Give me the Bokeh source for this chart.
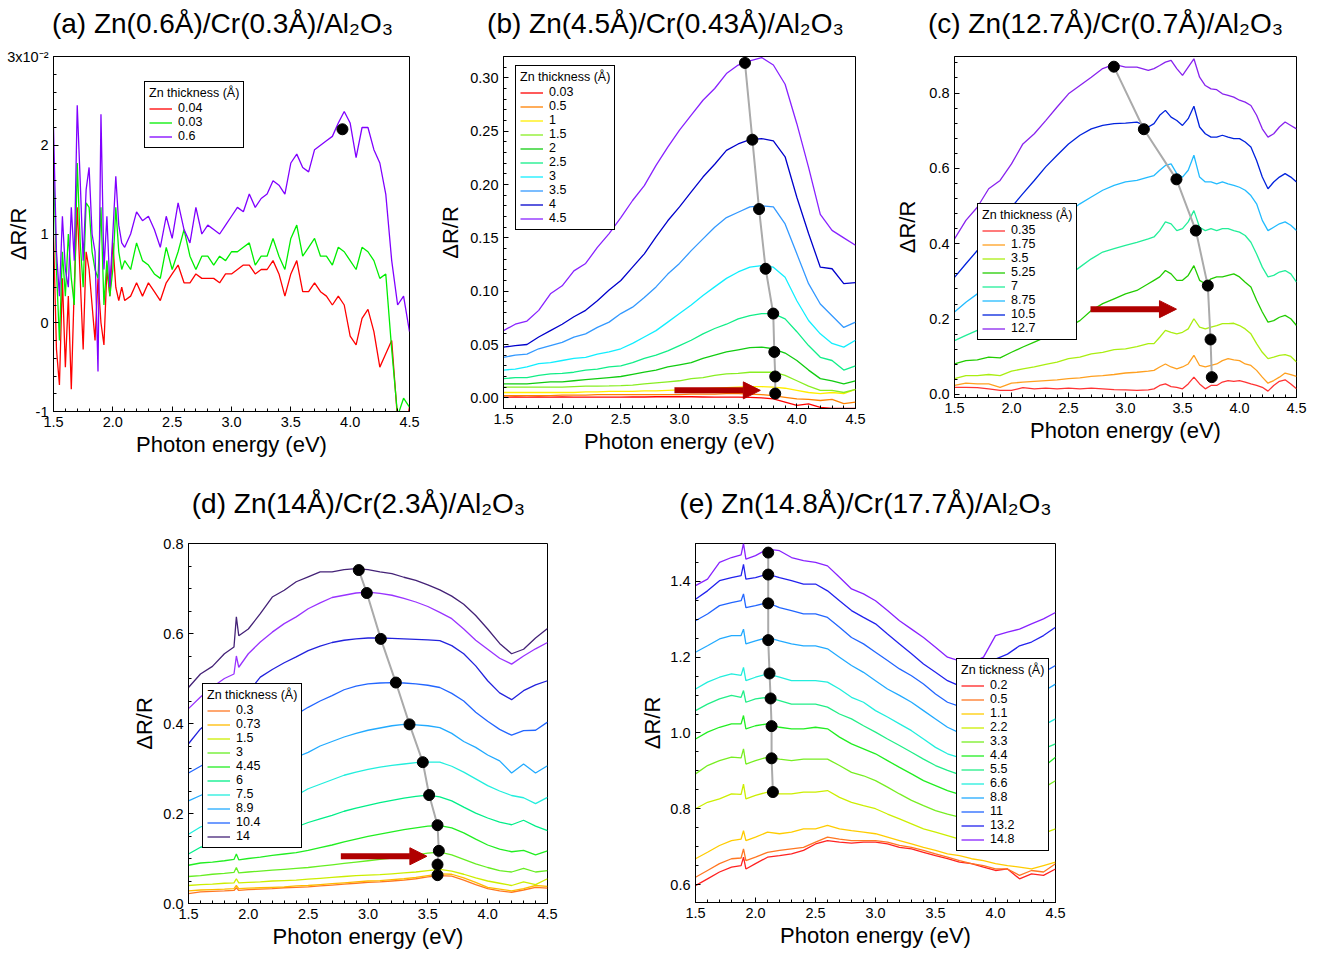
from bokeh.plotting import figure
from bokeh.layouts import row, column
from bokeh.models import (Range1d, FixedTicker, PrintfTickFormatter, Legend, LegendItem,
                          Arrow, NormalHead)
from bokeh.core.properties import value
from bokeh.embed import file_html
from bokeh.resources import INLINE

FONT = "Liberation Sans"

# ---------------- data: panel (a)  (values in units of 1e-2) ----------------
E_a = [1.500, 1.525, 1.550, 1.575, 1.600, 1.625, 1.650, 1.675, 1.700, 1.725, 1.750, 1.775, 1.800,
       1.825, 1.850, 1.875, 1.900, 1.925, 1.950, 1.975, 2.000, 2.025, 2.050, 2.075, 2.100,
       2.15, 2.20, 2.25, 2.30, 2.35, 2.40, 2.45, 2.50, 2.55, 2.60, 2.65, 2.70, 2.75, 2.80, 2.85,
       2.90, 2.95, 3.00, 3.05, 3.10, 3.15, 3.20, 3.25, 3.30, 3.35, 3.40, 3.45, 3.50, 3.55, 3.60,
       3.65, 3.70, 3.75, 3.80, 3.85, 3.90, 3.95, 4.00, 4.05, 4.10, 4.15, 4.20, 4.25, 4.30, 4.35,
       4.40, 4.45, 4.50]
a_004 = [1.0, -0.3, -0.7, 0.5, -0.5, 0.3, -0.75, 0.4, 1.3, 0.5, -0.3, 0.8, 0.6, 0.2, -0.2, 0.5, 0.0,
         -0.25, 0.6, 0.3, 0.9, 0.4, 0.25, 0.4, 0.25,
         0.3, 0.45, 0.3, 0.45, 0.35, 0.25, 0.45, 0.55, 0.65, 0.45, 0.45, 0.55, 0.5, 0.5, 0.5, 0.45,
         0.55, 0.55, 0.6, 0.65, 0.65, 0.55, 0.6, 0.6, 0.7, 0.55, 0.3, 0.55, 0.7, 0.35, 0.35, 0.45,
         0.35, 0.3, 0.2, 0.3, 0.2, -0.15, -0.25, 0.05, 0.15, -0.1, -0.5, -0.35, -0.2, -1.1, -1.3, -0.95]
a_003 = [1.8, 0.6, -0.2, 0.8, 0.3, 1.0, 0.5, 0.2, 1.8, 0.9, 0.4, 1.35, 1.3, 0.8, 0.6, 0.5, 1.3, 0.2,
         0.7, 0.3, 0.6, 1.3, 0.8, 0.6, 0.7,
         0.6, 0.9, 0.7, 0.65, 0.55, 0.5, 0.85, 0.6, 0.8, 1.05, 0.75, 0.6, 0.75, 0.75, 0.65, 0.75,
         0.7, 0.8, 0.8, 0.85, 0.9, 0.65, 0.75, 0.75, 0.95, 0.75, 0.6, 0.95, 1.1, 0.75, 0.85, 0.95,
         0.75, 0.75, 0.65, 0.85, 0.8, 0.7, 0.6, 0.85, 0.8, 0.7, 0.5, 0.55, -0.3, -1.05, -0.85, -0.95]
a_06 = [2.2, 0.8, 0.3, 1.2, 0.6, 0.4, 1.3, 0.7, 2.45, 1.6, 0.7, 1.5, 1.75, 1.0, 0.8, -0.55, 2.35,
        0.6, 1.2, 0.4, 1.0, 1.65, 1.1, 0.9, 0.85,
        1.0, 1.25, 1.15, 1.2, 1.05, 0.85, 1.2, 0.95, 1.35, 1.05, 0.9, 1.3, 1.0, 1.1, 1.05, 1.0,
        1.1, 1.2, 1.3, 1.25, 1.45, 1.3, 1.4, 1.45, 1.6, 1.55, 1.45, 1.8, 1.9, 1.75, 1.7, 1.95,
        2.0, 2.05, 2.1, 2.25, 2.38, 2.25, 1.86, 2.2, 2.2, 1.95, 1.8, 1.45, 0.7, 0.2, 0.3, -0.1]
a_labels = ["0.04", "0.03", "0.6"]
a_colors = ["#ff0000", "#00ee00", "#8000ff"]
a_dot_E = [3.935]
a_dot_v = [2.18]

# ---------------- data: panel (b) ----------------
E_b = [1.5, 1.6, 1.7, 1.8, 1.9, 2.0, 2.1, 2.2, 2.3, 2.4, 2.5, 2.6, 2.7, 2.8, 2.9, 3.0, 3.1, 3.2,
       3.3, 3.4, 3.5, 3.6, 3.7, 3.8, 3.9, 4.0, 4.1, 4.2, 4.3, 4.4, 4.5]
b_003 = [0.0006, 0.0008, 0.0006, 0.0008, 0.0006, 0.0008, 0.0006, 0.0006, 0.0006, 0.0006,
         0.0006, 0.0008, 0.0008, 0.001, 0.001, 0.0012, 0.001, 0.0008, 0.0006, 0.0006,
         0.0006, 0.0004, 0.0, -0.001, -0.004, -0.007, -0.0056, -0.009, -0.01, -0.01, -0.01]
b_05 = [0.002, 0.002, 0.002, 0.002, 0.002, 0.0025, 0.0025, 0.0025, 0.003, 0.003,
        0.003, 0.003, 0.003, 0.003, 0.003, 0.003, 0.0035, 0.0035, 0.0035, 0.004,
        0.004, 0.0035, 0.003, 0.002, 0.0005, -0.001, -0.0015, -0.0025, -0.0015, -0.0055, -0.004]
b_10 = [0.005, 0.005, 0.005, 0.005, 0.005, 0.005, 0.005, 0.0055, 0.0055, 0.006,
        0.006, 0.006, 0.0065, 0.0065, 0.007, 0.0075, 0.008, 0.0085, 0.009, 0.0095,
        0.010, 0.0105, 0.0105, 0.010, 0.009, 0.007, 0.005, 0.004, 0.005, 0.004, 0.008]
b_15 = [0.010, 0.010, 0.010, 0.010, 0.010, 0.010, 0.0105, 0.011, 0.011, 0.0112,
        0.0115, 0.012, 0.013, 0.014, 0.015, 0.016, 0.018, 0.019, 0.021, 0.0225,
        0.023, 0.024, 0.024, 0.024, 0.021, 0.016, 0.011, 0.007, 0.007, 0.005, 0.008]
b_20 = [0.013, 0.013, 0.013, 0.014, 0.015, 0.015, 0.016, 0.017, 0.018, 0.019,
        0.020, 0.022, 0.024, 0.026, 0.029, 0.031, 0.033, 0.037, 0.040, 0.043,
        0.045, 0.047, 0.0475, 0.046, 0.042, 0.035, 0.026, 0.018, 0.016, 0.013, 0.016]
b_25 = [0.018, 0.019, 0.019, 0.021, 0.0225, 0.023, 0.024, 0.026, 0.027, 0.029,
        0.030, 0.033, 0.037, 0.040, 0.044, 0.049, 0.054, 0.060, 0.065, 0.069,
        0.074, 0.077, 0.079, 0.079, 0.074, 0.062, 0.049, 0.038, 0.035, 0.026, 0.030]
b_30 = [0.026, 0.027, 0.029, 0.032, 0.033, 0.035, 0.037, 0.038, 0.041, 0.043,
        0.046, 0.051, 0.057, 0.063, 0.071, 0.079, 0.087, 0.096, 0.104, 0.112,
        0.118, 0.1225, 0.124, 0.1225, 0.113, 0.091, 0.0725, 0.060, 0.051, 0.0475, 0.054]
b_35 = [0.038, 0.040, 0.041, 0.046, 0.049, 0.052, 0.057, 0.060, 0.066, 0.071,
        0.079, 0.085, 0.094, 0.104, 0.116, 0.126, 0.138, 0.149, 0.160, 0.169,
        0.174, 0.179, 0.180, 0.179, 0.163, 0.135, 0.107, 0.088, 0.077, 0.066, 0.071]
b_40 = [0.0475, 0.049, 0.050, 0.057, 0.063, 0.069, 0.076, 0.082, 0.091, 0.101,
        0.110, 0.1225, 0.135, 0.151, 0.166, 0.179, 0.193, 0.207, 0.219, 0.232,
        0.238, 0.242, 0.243, 0.241, 0.226, 0.188, 0.154, 0.1225, 0.121, 0.107, 0.108]
b_45 = [0.063, 0.069, 0.072, 0.082, 0.0975, 0.105, 0.119, 0.126, 0.141, 0.154,
        0.169, 0.185, 0.199, 0.218, 0.235, 0.251, 0.265, 0.279, 0.290, 0.304,
        0.312, 0.316, 0.319, 0.312, 0.294, 0.257, 0.216, 0.172, 0.157, 0.150, 0.143]
b_labels = ["0.03", "0.5", "1", "1.5", "2", "2.5", "3", "3.5", "4", "4.5"]
b_colors = ["#ff0000", "#ff8000", "#ffee00", "#88ee22", "#11cc11", "#11ee88", "#11eeff",
            "#3399ff", "#0000cc", "#8822ff"]
b_dot_E = [3.558, 3.621, 3.678, 3.734, 3.799, 3.808, 3.816, 3.816]
b_dot_v = [0.314, 0.242, 0.177, 0.121, 0.079, 0.043, 0.020, 0.004]
b_arrow = [2.957, 3.689, 0.007]

# ---------------- data: panel (c) ----------------
E_c = [1.5, 1.6, 1.7, 1.8, 1.9, 2.0, 2.1, 2.2, 2.3, 2.4, 2.5, 2.6, 2.7, 2.8, 2.9, 3.0, 3.1, 3.2,
       3.25, 3.3, 3.35, 3.4, 3.45, 3.5, 3.55, 3.6, 3.65, 3.7, 3.75, 3.8, 3.85, 3.9, 3.95, 4.0,
       4.05, 4.1, 4.15, 4.2, 4.25, 4.3, 4.35, 4.4, 4.45, 4.5]
c_035 = [0.019, 0.019, 0.018, 0.015, 0.011, 0.011, 0.018, 0.015, 0.017, 0.015, 0.017, 0.015,
         0.017, 0.015, 0.013, 0.012, 0.011, 0.012,
         0.015, 0.024, 0.028, 0.021, 0.019, 0.015, 0.028, 0.046, 0.028, 0.015, 0.024, 0.024,
         0.033, 0.037, 0.035, 0.037, 0.033, 0.028, 0.024, 0.019, 0.009, 0.024, 0.035, 0.039,
         0.028, 0.015]
c_175 = [0.024, 0.030, 0.028, 0.028, 0.019, 0.030, 0.033, 0.035, 0.037, 0.039, 0.042, 0.044,
         0.048, 0.050, 0.053, 0.057, 0.059, 0.062,
         0.064, 0.073, 0.081, 0.073, 0.068, 0.073, 0.081, 0.104, 0.077, 0.073, 0.077, 0.081,
         0.090, 0.095, 0.092, 0.090, 0.081, 0.077, 0.064, 0.046, 0.030, 0.037, 0.046, 0.057,
         0.053, 0.048]
c_35 = [0.042, 0.050, 0.050, 0.053, 0.050, 0.062, 0.068, 0.073, 0.080, 0.086, 0.095, 0.099,
        0.108, 0.112, 0.119, 0.121, 0.127, 0.135,
        0.135, 0.152, 0.170, 0.165, 0.161, 0.165, 0.174, 0.201, 0.179, 0.174, 0.179, 0.183,
        0.188, 0.188, 0.189, 0.183, 0.174, 0.161, 0.135, 0.112, 0.095, 0.099, 0.104, 0.106,
        0.101, 0.086]
c_525 = [0.081, 0.090, 0.092, 0.099, 0.097, 0.112, 0.126, 0.139, 0.152, 0.165, 0.179, 0.196,
         0.223, 0.241, 0.254, 0.267, 0.276, 0.294,
         0.303, 0.312, 0.329, 0.320, 0.303, 0.303, 0.316, 0.342, 0.303, 0.294, 0.307, 0.312,
         0.312, 0.316, 0.320, 0.312, 0.298, 0.285, 0.250, 0.219, 0.192, 0.196, 0.205, 0.210,
         0.201, 0.183]
c_7 = [0.143, 0.157, 0.170, 0.183, 0.196, 0.210, 0.227, 0.245, 0.267, 0.289, 0.316, 0.338,
       0.360, 0.378, 0.387, 0.396, 0.404, 0.413,
       0.418, 0.435, 0.458, 0.453, 0.435, 0.440, 0.458, 0.488, 0.444, 0.435, 0.440, 0.435,
       0.440, 0.440, 0.435, 0.431, 0.422, 0.404, 0.373, 0.338, 0.312, 0.316, 0.325, 0.329,
       0.320, 0.298]
c_875 = [0.219, 0.245, 0.267, 0.294, 0.320, 0.347, 0.373, 0.400, 0.427, 0.453, 0.484, 0.506,
         0.524, 0.542, 0.555, 0.564, 0.568, 0.577,
         0.581, 0.595, 0.608, 0.612, 0.586, 0.577, 0.595, 0.635, 0.577, 0.564, 0.564, 0.559,
         0.564, 0.559, 0.555, 0.550, 0.542, 0.528, 0.506, 0.462, 0.435, 0.444, 0.453, 0.458,
         0.449, 0.435]
c_105 = [0.311, 0.347, 0.382, 0.418, 0.453, 0.497, 0.533, 0.568, 0.604, 0.635, 0.665, 0.688,
         0.705, 0.714, 0.719, 0.720, 0.723, 0.710,
         0.719, 0.741, 0.754, 0.736, 0.727, 0.714, 0.732, 0.765, 0.710, 0.692, 0.683, 0.683,
         0.688, 0.683, 0.679, 0.679, 0.670, 0.657, 0.621, 0.577, 0.546, 0.564, 0.577, 0.586,
         0.577, 0.564]
c_127 = [0.413, 0.462, 0.497, 0.546, 0.568, 0.612, 0.665, 0.692, 0.727, 0.763, 0.798, 0.820,
         0.842, 0.865, 0.876, 0.869, 0.869, 0.860,
         0.865, 0.873, 0.882, 0.887, 0.865, 0.847, 0.869, 0.891, 0.842, 0.820, 0.811, 0.809,
         0.798, 0.794, 0.789, 0.781, 0.776, 0.767, 0.741, 0.705, 0.683, 0.692, 0.710, 0.723,
         0.714, 0.705]
c_labels = ["0.35", "1.75", "3.5", "5.25", "7", "8.75", "10.5", "12.7"]
c_colors = ["#ff3333", "#ffa020", "#aaee11", "#22cc00", "#22ee99", "#22bbff", "#0022dd", "#8822ee"]
c_dot_E = [2.898, 3.161, 3.447, 3.617, 3.722, 3.746, 3.757]
c_dot_v = [0.870, 0.704, 0.571, 0.435, 0.289, 0.146, 0.046]
c_arrow = [2.693, 3.447, 0.2265]

# ---------------- data: panel (d) ----------------
E_d = [1.5, 1.6, 1.7, 1.8, 1.88, 1.9, 1.92, 2.0, 2.1, 2.2, 2.3, 2.4, 2.5, 2.6, 2.7, 2.8, 2.9,
       3.0, 3.1, 3.2, 3.3, 3.4, 3.5, 3.6, 3.7, 3.8, 3.9, 4.0, 4.1, 4.2, 4.3, 4.4, 4.5]
d_03 = [0.022, 0.026, 0.027, 0.028, 0.029, 0.035, 0.029, 0.031, 0.032, 0.033, 0.035, 0.036,
        0.037, 0.039, 0.041, 0.043, 0.045, 0.047, 0.048, 0.05, 0.052, 0.055, 0.059, 0.062,
        0.061, 0.052, 0.042, 0.033, 0.028, 0.025, 0.03, 0.036, 0.034]
d_073 = [0.028, 0.03, 0.031, 0.032, 0.033, 0.04, 0.033, 0.034, 0.035, 0.036, 0.037, 0.039,
         0.04, 0.042, 0.044, 0.046, 0.048, 0.05, 0.051, 0.053, 0.055, 0.058, 0.062, 0.066,
         0.065, 0.057, 0.047, 0.036, 0.032, 0.028, 0.033, 0.04, 0.038]
d_15 = [0.04, 0.042, 0.043, 0.045, 0.046, 0.055, 0.046, 0.047, 0.048, 0.05, 0.051, 0.052,
        0.054, 0.056, 0.058, 0.06, 0.062, 0.063, 0.064, 0.066, 0.068, 0.07, 0.073, 0.076,
        0.072, 0.065, 0.057, 0.05, 0.045, 0.04, 0.048, 0.042, 0.055]
d_3 = [0.06, 0.062, 0.065, 0.067, 0.069, 0.08, 0.068, 0.07, 0.072, 0.074, 0.076, 0.078,
       0.08, 0.083, 0.086, 0.089, 0.092, 0.095, 0.098, 0.101, 0.105, 0.108, 0.112, 0.114,
       0.108, 0.098, 0.088, 0.08, 0.073, 0.07, 0.078, 0.07, 0.073]
d_445 = [0.085, 0.09, 0.092, 0.095, 0.098, 0.11, 0.097, 0.1, 0.103, 0.107, 0.11, 0.113,
         0.118, 0.124, 0.13, 0.137, 0.143, 0.149, 0.154, 0.159, 0.164, 0.168, 0.172, 0.173,
         0.168, 0.157, 0.143, 0.13, 0.121, 0.115, 0.118, 0.108, 0.117]
d_6 = [0.11, 0.125, 0.13, 0.135, 0.14, 0.15, 0.14, 0.145, 0.15, 0.155, 0.162, 0.17,
       0.18, 0.188, 0.196, 0.205, 0.212, 0.218, 0.224, 0.229, 0.234, 0.238, 0.241, 0.237,
       0.228, 0.214, 0.201, 0.19, 0.181, 0.175, 0.185, 0.172, 0.162]
d_75 = [0.154, 0.17, 0.18, 0.19, 0.197, 0.2, 0.2, 0.207, 0.215, 0.224, 0.232, 0.24,
        0.255, 0.265, 0.275, 0.285, 0.292, 0.298, 0.303, 0.307, 0.31, 0.313, 0.314, 0.314,
        0.305, 0.292, 0.277, 0.262, 0.25, 0.24, 0.235, 0.222, 0.236]
d_89 = [0.228, 0.24, 0.252, 0.264, 0.272, 0.275, 0.275, 0.285, 0.295, 0.305, 0.315, 0.325,
        0.336, 0.35, 0.36, 0.37, 0.378, 0.385, 0.39, 0.395, 0.398, 0.397, 0.395, 0.391,
        0.378, 0.36, 0.347, 0.33, 0.317, 0.29, 0.31, 0.29, 0.306]
d_104 = [0.29, 0.305, 0.32, 0.335, 0.345, 0.35, 0.35, 0.365, 0.38, 0.395, 0.41, 0.42,
         0.436, 0.45, 0.462, 0.475, 0.483, 0.488, 0.49, 0.491, 0.49, 0.488, 0.485, 0.48,
         0.467, 0.45, 0.425, 0.405, 0.387, 0.374, 0.384, 0.385, 0.403]
d_deep = [0.355, 0.388, 0.41, 0.43, 0.445, 0.45, 0.452, 0.47, 0.503, 0.52, 0.535, 0.548,
          0.562, 0.572, 0.58, 0.585, 0.588, 0.59, 0.59, 0.589, 0.588, 0.587, 0.586, 0.584,
          0.573, 0.555, 0.528, 0.495, 0.468, 0.453, 0.473, 0.486, 0.495]
d_vio = [0.433, 0.459, 0.481, 0.50, 0.51, 0.55, 0.525, 0.555, 0.581, 0.603, 0.622, 0.637,
         0.655, 0.668, 0.68, 0.685, 0.69, 0.692, 0.689, 0.685, 0.678, 0.67, 0.66, 0.647,
         0.633, 0.61, 0.585, 0.565, 0.545, 0.532, 0.55, 0.566, 0.58]
d_14 = [0.48, 0.51, 0.527, 0.555, 0.57, 0.637, 0.595, 0.61, 0.644, 0.681, 0.696, 0.715,
        0.726, 0.737, 0.737, 0.742, 0.744, 0.742, 0.737, 0.733, 0.725, 0.718, 0.708, 0.697,
        0.683, 0.665, 0.64, 0.61, 0.578, 0.555, 0.565, 0.59, 0.611]
d_labels = ["0.3", "0.73", "1.5", "3", "4.45", "6", "7.5", "8.9", "10.4", None, None, "14"]
d_colors = ["#ff7722", "#ffbb00", "#ccee00", "#66ee22", "#22ee22", "#00ee88", "#22eedd",
            "#22aaff", "#2266ff", "#2222dd", "#9933ff", "#442277"]
d_dot_E = [2.923, 2.990, 3.107, 3.233, 3.347, 3.458, 3.511, 3.581, 3.592, 3.581, 3.581]
d_dot_v = [0.741, 0.690, 0.588, 0.491, 0.398, 0.314, 0.241, 0.174, 0.117, 0.0865, 0.063]
d_arrow = [2.773, 3.492, 0.105]

# ---------------- data: panel (e) ----------------
E_e = [1.5, 1.6, 1.7, 1.8, 1.88, 1.9, 1.92, 2.0, 2.1, 2.2, 2.3, 2.4, 2.5, 2.6, 2.7, 2.8, 2.9,
       3.0, 3.1, 3.2, 3.3, 3.4, 3.5, 3.6, 3.7, 3.8, 3.9, 4.0, 4.1, 4.2, 4.3, 4.4, 4.5]
e_02 = [0.597, 0.615, 0.633, 0.646, 0.65, 0.672, 0.641, 0.655, 0.672, 0.676, 0.681, 0.69,
        0.707, 0.716, 0.712, 0.709, 0.712, 0.712, 0.707, 0.698, 0.694, 0.685, 0.676, 0.668,
        0.659, 0.655, 0.646, 0.637, 0.641, 0.615, 0.628, 0.624, 0.641]
e_05 = [0.619, 0.637, 0.655, 0.668, 0.67, 0.694, 0.663, 0.672, 0.685, 0.69, 0.694, 0.698,
        0.712, 0.725, 0.72, 0.716, 0.716, 0.716, 0.712, 0.703, 0.698, 0.69, 0.681, 0.672,
        0.663, 0.655, 0.65, 0.641, 0.641, 0.624, 0.637, 0.633, 0.655]
e_11 = [0.668, 0.685, 0.703, 0.716, 0.72, 0.742, 0.716, 0.725, 0.738, 0.734, 0.738, 0.747,
        0.747, 0.756, 0.747, 0.742, 0.738, 0.734, 0.725, 0.716, 0.707, 0.698, 0.69, 0.681,
        0.676, 0.668, 0.663, 0.655, 0.65, 0.646, 0.641, 0.65, 0.659]
e_22 = [0.80, 0.817, 0.826, 0.839, 0.838, 0.865, 0.826, 0.835, 0.844, 0.839, 0.839, 0.844,
        0.844, 0.848, 0.83, 0.817, 0.808, 0.80, 0.786, 0.773, 0.76, 0.747, 0.738, 0.729,
        0.72, 0.71, 0.705, 0.705, 0.71, 0.715, 0.725, 0.735, 0.747]
e_33 = [0.892, 0.914, 0.927, 0.936, 0.934, 0.958, 0.918, 0.927, 0.936, 0.931, 0.927, 0.931,
        0.931, 0.931, 0.914, 0.896, 0.887, 0.874, 0.857, 0.839, 0.822, 0.808, 0.795, 0.786,
        0.778, 0.772, 0.775, 0.785, 0.8, 0.815, 0.835, 0.855, 0.874]
e_44 = [0.984, 1.002, 1.015, 1.024, 1.024, 1.046, 1.011, 1.019, 1.024, 1.015, 1.011, 1.011,
        1.015, 1.011, 0.989, 0.971, 0.958, 0.945, 0.927, 0.909, 0.892, 0.874, 0.861, 0.848,
        0.838, 0.832, 0.835, 0.845, 0.86, 0.875, 0.89, 0.91, 0.936]
e_55 = [1.059, 1.076, 1.09, 1.099, 1.094, 1.112, 1.081, 1.09, 1.094, 1.085, 1.076, 1.076,
        1.076, 1.068, 1.05, 1.037, 1.019, 1.002, 0.984, 0.967, 0.949, 0.931, 0.914, 0.901,
        0.89, 0.885, 0.888, 0.9, 0.915, 0.93, 0.945, 0.958, 0.971]
e_66 = [1.116, 1.134, 1.147, 1.156, 1.152, 1.173, 1.138, 1.147, 1.156, 1.147, 1.138, 1.138,
        1.138, 1.134, 1.116, 1.094, 1.081, 1.059, 1.042, 1.024, 1.006, 0.984, 0.962, 0.945,
        0.935, 0.93, 0.935, 0.95, 0.97, 0.985, 1.0, 1.02, 1.037]
e_88 = [1.213, 1.23, 1.248, 1.257, 1.257, 1.274, 1.235, 1.243, 1.252, 1.243, 1.235, 1.23,
        1.23, 1.222, 1.2, 1.178, 1.16, 1.138, 1.116, 1.099, 1.081, 1.059, 1.037, 1.015,
        1.0, 0.995, 1.0, 1.02, 1.045, 1.07, 1.09, 1.11, 1.129]
e_110 = [1.296, 1.314, 1.336, 1.344, 1.349, 1.367, 1.331, 1.336, 1.344, 1.331, 1.323, 1.314,
         1.314, 1.305, 1.279, 1.252, 1.235, 1.213, 1.191, 1.169, 1.151, 1.129, 1.103, 1.081,
         1.07, 1.06, 1.065, 1.09, 1.11, 1.13, 1.145, 1.16, 1.178]
e_132 = [1.353, 1.375, 1.402, 1.41, 1.415, 1.445, 1.406, 1.41, 1.419, 1.41, 1.402, 1.393,
         1.393, 1.375, 1.349, 1.323, 1.305, 1.288, 1.261, 1.235, 1.209, 1.182, 1.16, 1.138,
         1.124, 1.124, 1.138, 1.195, 1.208, 1.23, 1.24, 1.257, 1.279]
e_148 = [1.389, 1.406, 1.45, 1.463, 1.47, 1.5, 1.459, 1.468, 1.485, 1.481, 1.463, 1.455,
         1.45, 1.441, 1.411, 1.38, 1.367, 1.349, 1.323, 1.296, 1.274, 1.252, 1.226, 1.2,
         1.19, 1.185, 1.2, 1.257, 1.266, 1.274, 1.288, 1.301, 1.318]
e_labels = ["0.2", "0.5", "1.1", "2.2", "3.3", "4.4", "5.5", "6.6", "8.8", "11", "13.2", "14.8"]
e_colors = ["#ff2222", "#ff7722", "#ffcc00", "#ccee00", "#77ee22", "#22ee22", "#22ee88",
            "#22eedd", "#22aaff", "#2266ff", "#2222ee", "#8822ff"]
e_dot_E = [2.106, 2.106, 2.106, 2.106, 2.117, 2.126, 2.134, 2.134, 2.145]
e_dot_v = [1.476, 1.418, 1.342, 1.245, 1.157, 1.091, 1.018, 0.933, 0.844]

# ---------------- titles ----------------
TITLES_ROW1 = ["(a) Zn(0.6Å)/Cr(0.3Å)/Al₂O₃", "(b) Zn(4.5Å)/Cr(0.43Å)/Al₂O₃",
               "(c) Zn(12.7Å)/Cr(0.7Å)/Al₂O₃"]
TITLES_ROW2 = ["(d) Zn(14Å)/Cr(2.3Å)/Al₂O₃", "(e) Zn(14.8Å)/Cr(17.7Å)/Al₂O₃"]
TITLE_X_ROW1 = [222, 665, 1105]      # title centres, page pixels
TITLE_X_ROW2 = [358, 865]

# ---------------- ticks ----------------
X_MAJOR = [1.5, 2.0, 2.5, 3.0, 3.5, 4.0, 4.5]
X_MINOR = [round(1.5 + 0.1 * i, 2) for i in range(31)]

ARROW_COLOR = "#b00000"
DOT_LINE = "#aaaaaa"


def make_panel(W, H, L, R, T, B, yr, y_major, y_minor, y_fmt, ylab_standoff):
    p = figure(width=W, height=H, x_range=Range1d(1.5, 4.5), y_range=Range1d(*yr),
               output_backend="svg", toolbar_location=None,
               min_border_left=L, min_border_right=R, min_border_top=T, min_border_bottom=B)
    p.grid.visible = False
    p.outline_line_color = "black"
    p.outline_line_alpha = 1.0
    p.outline_line_width = 1
    p.background_fill_color = "white"
    p.border_fill_color = "white"
    for ax in (p.xaxis[0], p.yaxis[0]):
        ax.major_tick_in = 5
        ax.major_tick_out = 0
        ax.minor_tick_in = 3
        ax.minor_tick_out = 0
        ax.axis_line_color = "black"
        ax.major_tick_line_color = "black"
        ax.minor_tick_line_color = "black"
        ax.major_label_text_font = FONT
        ax.major_label_text_font_size = "14.5px"
        ax.major_label_text_color = "black"
        ax.major_label_standoff = 5
        ax.axis_label_text_font = FONT
        ax.axis_label_text_font_size = "22px"
        ax.axis_label_text_font_style = "normal"
        ax.axis_label_text_color = "black"
    p.xaxis[0].ticker = FixedTicker(ticks=X_MAJOR, minor_ticks=X_MINOR)
    p.xaxis[0].formatter = PrintfTickFormatter(format="%.1f")
    p.xaxis[0].axis_label = "Photon energy (eV)"
    p.xaxis[0].axis_label_standoff = 2
    p.yaxis[0].ticker = FixedTicker(ticks=y_major, minor_ticks=y_minor)
    p.yaxis[0].formatter = PrintfTickFormatter(format=y_fmt)
    p.yaxis[0].axis_label = "ΔR/R"
    p.yaxis[0].axis_label_standoff = ylab_standoff
    return p


def title_strip(W, H, xs, texts, centre_from_top):
    s = figure(width=W, height=H, x_range=Range1d(0, W), y_range=Range1d(0, H),
               output_backend="svg", toolbar_location=None,
               x_axis_location=None, y_axis_location=None,
               min_border_left=0, min_border_right=0, min_border_top=0, min_border_bottom=0)
    s.grid.visible = False
    s.outline_line_color = None
    s.background_fill_color = "white"
    s.border_fill_color = "white"
    s.text(x=xs, y=[H - centre_from_top] * len(xs), text=texts,
           text_font=value(FONT), text_font_size=value("28px"),
           text_align="center", text_baseline="middle", text_color="black")
    return s


def add_curves(p, E, series, colors):
    return [p.line(E, ys, line_color=c, line_width=1.3) for ys, c in zip(series, colors)]


def add_legend(p, title, labels, rends, loc):
    items = [LegendItem(label=l, renderers=[r]) for l, r in zip(labels, rends) if l is not None]
    leg = Legend(items=items, location=loc, title=title, orientation="vertical",
                 border_line_color="black", border_line_width=1, border_line_alpha=1.0,
                 background_fill_color="white", background_fill_alpha=1.0,
                 padding=4, spacing=0, margin=0, label_height=11, glyph_height=11,
                 glyph_width=23, label_standoff=6,
                 label_text_font=FONT, label_text_font_size="12.5px", label_text_color="black",
                 title_text_font=FONT, title_text_font_size="12.5px",
                 title_text_font_style="normal", title_text_color="black", title_standoff=1)
    p.add_layout(leg)


def add_dots(p, dx, dy, with_line=True):
    if with_line:
        p.line(dx, dy, line_color=DOT_LINE, line_width=2)
    p.scatter(dx, dy, size=11, fill_color="black", line_color="black")


def add_arrow(p, spec):
    x0, x1, y = spec
    p.add_layout(Arrow(end=NormalHead(size=17, fill_color=ARROW_COLOR, line_color=ARROW_COLOR),
                       x_start=x0, y_start=y, x_end=x1, y_end=y,
                       line_color=ARROW_COLOR, line_width=6))


# ---------------- layout geometry ----------------
S1 = 46          # row-1 title strip height
T1, B1 = 10, 56  # row-1 top/bottom borders (same for all: rows align frames)
S2 = 63          # row-2 title strip height (page y 467..530)
T2, B2 = 13, 53

# ---------------- panel (a) ----------------
pa = make_panel(423, T1 + 355 + B1, 53, 14, T1, B1, (-1, 3), [-1, 0, 1, 2, 3],
                [round(-1 + 0.2 * i, 2) for i in range(21)], "%d", -27)
pa.yaxis[0].major_label_overrides = {3: "3x10⁻²"}
ra = add_curves(pa, E_a, [a_004, a_003, a_06], a_colors)
add_dots(pa, a_dot_E, a_dot_v, with_line=False)
add_legend(pa, "Zn thickness (Å)", a_labels, ra, (91, 263))

# ---------------- panel (b) ----------------
pb = make_panel(446, T1 + 352 + B1, 80, 14, T1, B1, (-0.01, 0.32),
                [0.0, 0.05, 0.10, 0.15, 0.20, 0.25, 0.30],
                [round(-0.01 + 0.01 * i, 3) for i in range(34)], "%.2f", 4)
rb = add_curves(pb, E_b, [b_003, b_05, b_10, b_15, b_20, b_25, b_30, b_35, b_40, b_45], b_colors)
add_dots(pb, b_dot_E, b_dot_v)
add_arrow(pb, b_arrow)
add_legend(pb, "Zn thickness (Å)", b_labels, rb, (12, 178))

# ---------------- panel (c) ----------------
pc = make_panel(448, T1 + 341 + B1, 85, 21, T1, B1, (-0.008, 0.897),
                [0.0, 0.2, 0.4, 0.6, 0.8],
                [round(0.04 * i, 3) for i in range(23)], "%.1f", 6)
rc = add_curves(pc, E_c, [c_035, c_175, c_35, c_525, c_7, c_875, c_105, c_127], c_colors)
add_dots(pc, c_dot_E, c_dot_v)
add_arrow(pc, c_arrow)
add_legend(pc, "Zn thickness (Å)", c_labels, rc, (23, 57))

# ---------------- panel (d) ----------------
pd = make_panel(561, T2 + 360 + B2, 188, 14, T2, B2, (0.0, 0.8),
                [0.0, 0.2, 0.4, 0.6, 0.8],
                [round(0.05 * i, 3) for i in range(17)], "%.1f", 3)
rd = add_curves(pd, E_d, [d_03, d_073, d_15, d_3, d_445, d_6, d_75, d_89, d_104, d_deep,
                          d_vio, d_14], d_colors)
add_dots(pd, d_dot_E, d_dot_v)
add_arrow(pd, d_arrow)
add_legend(pd, "Zn thickness (Å)", d_labels, rd, (14, 55))

# ---------------- panel (e) ----------------
pe = make_panel(514, T2 + 359 + B2, 134, 20, T2, B2, (0.5525, 1.5),
                [0.6, 0.8, 1.0, 1.2, 1.4],
                [round(0.55 + 0.05 * i, 3) for i in range(20)], "%.1f", 2)
re_ = add_curves(pe, E_e, [e_02, e_05, e_11, e_22, e_33, e_44, e_55, e_66, e_88, e_110,
                           e_132, e_148], e_colors)
add_dots(pe, e_dot_E, e_dot_v)
add_legend(pe, "Zn tickness (Å)", e_labels, re_, (261, 51))

# title centres: page y 23 (row 1) and 503 (row 2; strip 2 starts at page y 467)
strip1 = title_strip(1317, S1, TITLE_X_ROW1, TITLES_ROW1, 23)
strip2 = title_strip(1317, S2, TITLE_X_ROW2, TITLES_ROW2, 36)

layout = column(strip1, row(pa, pb, pc), strip2, row(pd, pe))
open("out.html", "w").write(file_html(layout, INLINE))
